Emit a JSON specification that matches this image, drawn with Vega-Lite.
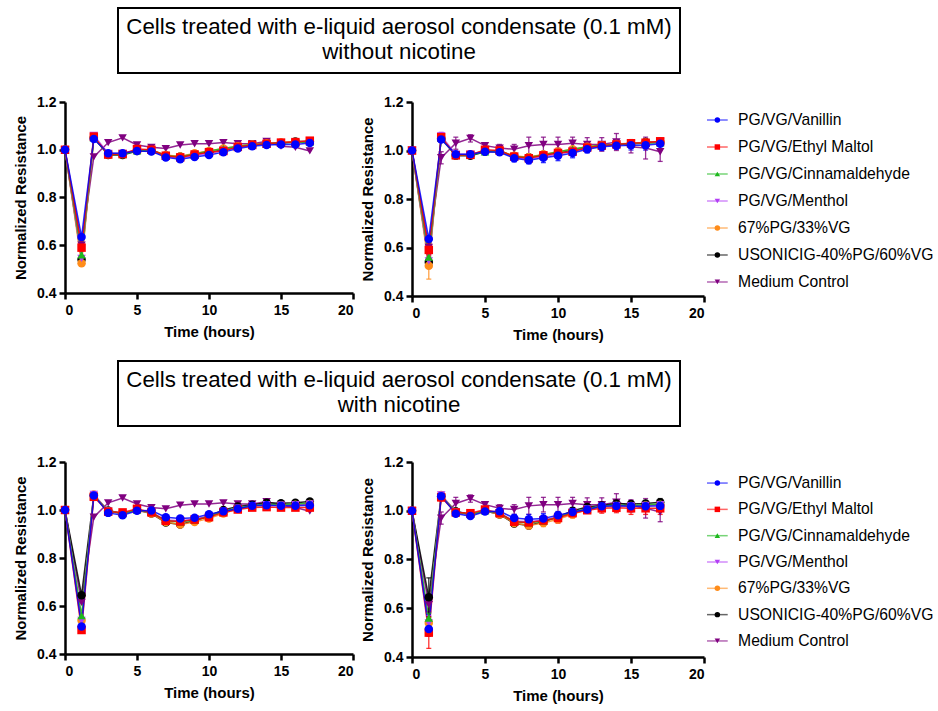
{
"$schema":"https://vega.github.io/schema/vega-lite/v6.json",
"padding":{"left":13,"top":7,"right":2,"bottom":2},
"config":{"view":{"stroke":null},"font":"Liberation Sans",
"axis":{"domainColor":"black","domainWidth":2.5,"tickColor":"black","tickWidth":2.5,"tickSize":6,"labelFont":"Liberation Sans","labelFontWeight":"bold","labelFontSize":14,"labelColor":"black","titleFont":"Liberation Sans","titleFontSize":15,"titleFontWeight":"bold","titleColor":"black","grid":false},
"axisX":{"labelPadding":4,"titlePadding":7},
"axisY":{"labelPadding":3,"titlePadding":8}},
"datasets":{
"series":[{"s":"V","n":"PG/VG/Vanillin"},{"s":"E","n":"PG/VG/Ethyl Maltol"},{"s":"C","n":"PG/VG/Cinnamaldehyde"},{"s":"M","n":"PG/VG/Menthol"},{"s":"O","n":"67%PG/33%VG"},{"s":"U","n":"USONICIG-40%PG/60%VG"},{"s":"K","n":"Medium Control"}],
"d":[
{"g":"wo","s":"K","t":0,"v":1,"e":0},{"g":"wo","s":"K","t":1.15,"v":0.6,"e":0.03},{"g":"wo","s":"K","t":2,"v":0.97,"e":0.025},{"g":"wo","s":"K","t":3,"v":1.03,"e":0.025},{"g":"wo","s":"K","t":4,"v":1.05,"e":0.015},{"g":"wo","s":"K","t":5,"v":1.02,"e":0.012},{"g":"wo","s":"K","t":6,"v":1.01,"e":0.015},{"g":"wo","s":"K","t":7,"v":1.005,"e":0.02},{"g":"wo","s":"K","t":8,"v":1.02,"e":0.035},{"g":"wo","s":"K","t":9,"v":1.025,"e":0.03},{"g":"wo","s":"K","t":10,"v":1.025,"e":0.03},{"g":"wo","s":"K","t":11,"v":1.03,"e":0.025},{"g":"wo","s":"K","t":12,"v":1.025,"e":0.028},{"g":"wo","s":"K","t":13,"v":1.025,"e":0.028},{"g":"wo","s":"K","t":14,"v":1.035,"e":0.035},{"g":"wo","s":"K","t":15,"v":1.015,"e":0.025},{"g":"wo","s":"K","t":16,"v":1.01,"e":0.045},{"g":"wo","s":"K","t":17,"v":0.995,"e":0.04},
{"g":"wo","s":"U","t":0,"v":1,"e":0},{"g":"wo","s":"U","t":1.15,"v":0.54,"e":0.02},{"g":"wo","s":"U","t":2,"v":1.05,"e":0.01},{"g":"wo","s":"U","t":3,"v":0.978,"e":0.01},{"g":"wo","s":"U","t":4,"v":0.978,"e":0.01},{"g":"wo","s":"U","t":5,"v":0.995,"e":0.01},{"g":"wo","s":"U","t":6,"v":0.995,"e":0.01},{"g":"wo","s":"U","t":7,"v":0.975,"e":0.01},{"g":"wo","s":"U","t":8,"v":0.972,"e":0.01},{"g":"wo","s":"U","t":9,"v":0.982,"e":0.01},{"g":"wo","s":"U","t":10,"v":0.99,"e":0.01},{"g":"wo","s":"U","t":11,"v":1.0,"e":0.01},{"g":"wo","s":"U","t":12,"v":1.012,"e":0.01},{"g":"wo","s":"U","t":13,"v":1.02,"e":0.01},{"g":"wo","s":"U","t":14,"v":1.025,"e":0.01},{"g":"wo","s":"U","t":15,"v":1.028,"e":0.01},{"g":"wo","s":"U","t":16,"v":1.035,"e":0.01},{"g":"wo","s":"U","t":17,"v":1.035,"e":0.01},
{"g":"wo","s":"O","t":0,"v":1,"e":0},{"g":"wo","s":"O","t":1.15,"v":0.525,"e":0.055},{"g":"wo","s":"O","t":2,"v":1.05,"e":0.01},{"g":"wo","s":"O","t":3,"v":0.98,"e":0.01},{"g":"wo","s":"O","t":4,"v":0.982,"e":0.01},{"g":"wo","s":"O","t":5,"v":1.0,"e":0.01},{"g":"wo","s":"O","t":6,"v":0.998,"e":0.01},{"g":"wo","s":"O","t":7,"v":0.978,"e":0.01},{"g":"wo","s":"O","t":8,"v":0.972,"e":0.012},{"g":"wo","s":"O","t":9,"v":0.985,"e":0.01},{"g":"wo","s":"O","t":10,"v":0.995,"e":0.01},{"g":"wo","s":"O","t":11,"v":1.005,"e":0.01},{"g":"wo","s":"O","t":12,"v":1.015,"e":0.01},{"g":"wo","s":"O","t":13,"v":1.022,"e":0.01},{"g":"wo","s":"O","t":14,"v":1.027,"e":0.01},{"g":"wo","s":"O","t":15,"v":1.03,"e":0.01},{"g":"wo","s":"O","t":16,"v":1.033,"e":0.01},{"g":"wo","s":"O","t":17,"v":1.036,"e":0.01},
{"g":"wo","s":"M","t":0,"v":1,"e":0},{"g":"wo","s":"M","t":1.15,"v":0.545,"e":0.03},{"g":"wo","s":"M","t":2,"v":1.06,"e":0.015},{"g":"wo","s":"M","t":3,"v":0.985,"e":0.01},{"g":"wo","s":"M","t":4,"v":0.985,"e":0.01},{"g":"wo","s":"M","t":5,"v":0.998,"e":0.01},{"g":"wo","s":"M","t":6,"v":0.998,"e":0.01},{"g":"wo","s":"M","t":7,"v":0.97,"e":0.01},{"g":"wo","s":"M","t":8,"v":0.965,"e":0.01},{"g":"wo","s":"M","t":9,"v":0.975,"e":0.01},{"g":"wo","s":"M","t":10,"v":0.985,"e":0.01},{"g":"wo","s":"M","t":11,"v":0.998,"e":0.01},{"g":"wo","s":"M","t":12,"v":1.01,"e":0.01},{"g":"wo","s":"M","t":13,"v":1.02,"e":0.01},{"g":"wo","s":"M","t":14,"v":1.025,"e":0.01},{"g":"wo","s":"M","t":15,"v":1.028,"e":0.01},{"g":"wo","s":"M","t":16,"v":1.03,"e":0.01},{"g":"wo","s":"M","t":17,"v":1.035,"e":0.01},
{"g":"wo","s":"C","t":0,"v":1,"e":0},{"g":"wo","s":"C","t":1.15,"v":0.56,"e":0.02},{"g":"wo","s":"C","t":2,"v":1.05,"e":0.01},{"g":"wo","s":"C","t":3,"v":0.98,"e":0.01},{"g":"wo","s":"C","t":4,"v":0.98,"e":0.01},{"g":"wo","s":"C","t":5,"v":0.995,"e":0.01},{"g":"wo","s":"C","t":6,"v":1.0,"e":0.012},{"g":"wo","s":"C","t":7,"v":0.975,"e":0.01},{"g":"wo","s":"C","t":8,"v":0.97,"e":0.01},{"g":"wo","s":"C","t":9,"v":0.982,"e":0.01},{"g":"wo","s":"C","t":10,"v":0.995,"e":0.01},{"g":"wo","s":"C","t":11,"v":1.005,"e":0.01},{"g":"wo","s":"C","t":12,"v":1.015,"e":0.01},{"g":"wo","s":"C","t":13,"v":1.022,"e":0.01},{"g":"wo","s":"C","t":14,"v":1.025,"e":0.01},{"g":"wo","s":"C","t":15,"v":1.028,"e":0.01},{"g":"wo","s":"C","t":16,"v":1.03,"e":0.01},{"g":"wo","s":"C","t":17,"v":1.032,"e":0.01},
{"g":"wo","s":"E","t":0,"v":1,"e":0},{"g":"wo","s":"E","t":1.15,"v":0.59,"e":0.02},{"g":"wo","s":"E","t":2,"v":1.055,"e":0.01},{"g":"wo","s":"E","t":3,"v":0.98,"e":0.01},{"g":"wo","s":"E","t":4,"v":0.982,"e":0.01},{"g":"wo","s":"E","t":5,"v":1.003,"e":0.01},{"g":"wo","s":"E","t":6,"v":1.0,"e":0.01},{"g":"wo","s":"E","t":7,"v":0.975,"e":0.015},{"g":"wo","s":"E","t":8,"v":0.968,"e":0.015},{"g":"wo","s":"E","t":9,"v":0.98,"e":0.015},{"g":"wo","s":"E","t":10,"v":0.99,"e":0.02},{"g":"wo","s":"E","t":11,"v":0.995,"e":0.015},{"g":"wo","s":"E","t":12,"v":1.012,"e":0.015},{"g":"wo","s":"E","t":13,"v":1.02,"e":0.015},{"g":"wo","s":"E","t":14,"v":1.025,"e":0.015},{"g":"wo","s":"E","t":15,"v":1.03,"e":0.015},{"g":"wo","s":"E","t":16,"v":1.032,"e":0.01},{"g":"wo","s":"E","t":17,"v":1.038,"e":0.012},
{"g":"wo","s":"V","t":0,"v":1,"e":0},{"g":"wo","s":"V","t":1.15,"v":0.635,"e":0.01},{"g":"wo","s":"V","t":2,"v":1.045,"e":0.01},{"g":"wo","s":"V","t":3,"v":0.985,"e":0.01},{"g":"wo","s":"V","t":4,"v":0.985,"e":0.008},{"g":"wo","s":"V","t":5,"v":0.995,"e":0.01},{"g":"wo","s":"V","t":6,"v":0.993,"e":0.01},{"g":"wo","s":"V","t":7,"v":0.968,"e":0.015},{"g":"wo","s":"V","t":8,"v":0.96,"e":0.015},{"g":"wo","s":"V","t":9,"v":0.97,"e":0.02},{"g":"wo","s":"V","t":10,"v":0.978,"e":0.02},{"g":"wo","s":"V","t":11,"v":0.99,"e":0.02},{"g":"wo","s":"V","t":12,"v":1.005,"e":0.015},{"g":"wo","s":"V","t":13,"v":1.015,"e":0.015},{"g":"wo","s":"V","t":14,"v":1.02,"e":0.015},{"g":"wo","s":"V","t":15,"v":1.022,"e":0.02},{"g":"wo","s":"V","t":16,"v":1.022,"e":0.02},{"g":"wo","s":"V","t":17,"v":1.028,"e":0.02},
{"g":"w","s":"K","t":0,"v":1,"e":0},{"g":"w","s":"K","t":1.15,"v":0.615,"e":0.03},{"g":"w","s":"K","t":2,"v":0.97,"e":0.025},{"g":"w","s":"K","t":3,"v":1.03,"e":0.025},{"g":"w","s":"K","t":4,"v":1.05,"e":0.015},{"g":"w","s":"K","t":5,"v":1.025,"e":0.012},{"g":"w","s":"K","t":6,"v":1.01,"e":0.015},{"g":"w","s":"K","t":7,"v":1.005,"e":0.02},{"g":"w","s":"K","t":8,"v":1.02,"e":0.035},{"g":"w","s":"K","t":9,"v":1.025,"e":0.03},{"g":"w","s":"K","t":10,"v":1.025,"e":0.03},{"g":"w","s":"K","t":11,"v":1.03,"e":0.025},{"g":"w","s":"K","t":12,"v":1.025,"e":0.028},{"g":"w","s":"K","t":13,"v":1.025,"e":0.028},{"g":"w","s":"K","t":14,"v":1.035,"e":0.035},{"g":"w","s":"K","t":15,"v":1.02,"e":0.025},{"g":"w","s":"K","t":16,"v":1.01,"e":0.04},{"g":"w","s":"K","t":17,"v":0.995,"e":0.04},
{"g":"w","s":"U","t":0,"v":1,"e":0},{"g":"w","s":"U","t":1.15,"v":0.645,"e":0.08},{"g":"w","s":"U","t":2,"v":1.06,"e":0.01},{"g":"w","s":"U","t":3,"v":0.998,"e":0.01},{"g":"w","s":"U","t":4,"v":0.985,"e":0.01},{"g":"w","s":"U","t":5,"v":1.0,"e":0.01},{"g":"w","s":"U","t":6,"v":0.985,"e":0.012},{"g":"w","s":"U","t":7,"v":0.948,"e":0.01},{"g":"w","s":"U","t":8,"v":0.94,"e":0.01},{"g":"w","s":"U","t":9,"v":0.955,"e":0.01},{"g":"w","s":"U","t":10,"v":0.975,"e":0.01},{"g":"w","s":"U","t":11,"v":1.0,"e":0.01},{"g":"w","s":"U","t":12,"v":1.015,"e":0.01},{"g":"w","s":"U","t":13,"v":1.022,"e":0.01},{"g":"w","s":"U","t":14,"v":1.03,"e":0.012},{"g":"w","s":"U","t":15,"v":1.028,"e":0.012},{"g":"w","s":"U","t":16,"v":1.03,"e":0.012},{"g":"w","s":"U","t":17,"v":1.035,"e":0.015},
{"g":"w","s":"O","t":0,"v":1,"e":0},{"g":"w","s":"O","t":1.15,"v":0.54,"e":0.02},{"g":"w","s":"O","t":2,"v":1.065,"e":0.01},{"g":"w","s":"O","t":3,"v":0.995,"e":0.01},{"g":"w","s":"O","t":4,"v":0.985,"e":0.01},{"g":"w","s":"O","t":5,"v":1.0,"e":0.01},{"g":"w","s":"O","t":6,"v":0.985,"e":0.01},{"g":"w","s":"O","t":7,"v":0.95,"e":0.012},{"g":"w","s":"O","t":8,"v":0.94,"e":0.015},{"g":"w","s":"O","t":9,"v":0.95,"e":0.015},{"g":"w","s":"O","t":10,"v":0.965,"e":0.015},{"g":"w","s":"O","t":11,"v":0.985,"e":0.015},{"g":"w","s":"O","t":12,"v":1.005,"e":0.01},{"g":"w","s":"O","t":13,"v":1.015,"e":0.01},{"g":"w","s":"O","t":14,"v":1.02,"e":0.01},{"g":"w","s":"O","t":15,"v":1.02,"e":0.01},{"g":"w","s":"O","t":16,"v":1.022,"e":0.01},{"g":"w","s":"O","t":17,"v":1.025,"e":0.01},
{"g":"w","s":"M","t":0,"v":1,"e":0},{"g":"w","s":"M","t":1.15,"v":0.54,"e":0.03},{"g":"w","s":"M","t":2,"v":1.065,"e":0.012},{"g":"w","s":"M","t":3,"v":0.995,"e":0.01},{"g":"w","s":"M","t":4,"v":0.985,"e":0.01},{"g":"w","s":"M","t":5,"v":1.0,"e":0.01},{"g":"w","s":"M","t":6,"v":0.99,"e":0.01},{"g":"w","s":"M","t":7,"v":0.958,"e":0.01},{"g":"w","s":"M","t":8,"v":0.955,"e":0.01},{"g":"w","s":"M","t":9,"v":0.962,"e":0.01},{"g":"w","s":"M","t":10,"v":0.975,"e":0.01},{"g":"w","s":"M","t":11,"v":0.995,"e":0.01},{"g":"w","s":"M","t":12,"v":1.008,"e":0.01},{"g":"w","s":"M","t":13,"v":1.018,"e":0.01},{"g":"w","s":"M","t":14,"v":1.022,"e":0.01},{"g":"w","s":"M","t":15,"v":1.02,"e":0.01},{"g":"w","s":"M","t":16,"v":1.022,"e":0.01},{"g":"w","s":"M","t":17,"v":1.025,"e":0.01},
{"g":"w","s":"C","t":0,"v":1,"e":0},{"g":"w","s":"C","t":1.15,"v":0.56,"e":0.02},{"g":"w","s":"C","t":2,"v":1.06,"e":0.01},{"g":"w","s":"C","t":3,"v":0.995,"e":0.01},{"g":"w","s":"C","t":4,"v":0.985,"e":0.01},{"g":"w","s":"C","t":5,"v":1.0,"e":0.01},{"g":"w","s":"C","t":6,"v":0.99,"e":0.01},{"g":"w","s":"C","t":7,"v":0.955,"e":0.01},{"g":"w","s":"C","t":8,"v":0.95,"e":0.01},{"g":"w","s":"C","t":9,"v":0.958,"e":0.01},{"g":"w","s":"C","t":10,"v":0.972,"e":0.01},{"g":"w","s":"C","t":11,"v":0.995,"e":0.01},{"g":"w","s":"C","t":12,"v":1.008,"e":0.01},{"g":"w","s":"C","t":13,"v":1.018,"e":0.01},{"g":"w","s":"C","t":14,"v":1.025,"e":0.01},{"g":"w","s":"C","t":15,"v":1.022,"e":0.01},{"g":"w","s":"C","t":16,"v":1.025,"e":0.01},{"g":"w","s":"C","t":17,"v":1.028,"e":0.01},
{"g":"w","s":"E","t":0,"v":1,"e":0},{"g":"w","s":"E","t":1.15,"v":0.5,"e":0.065},{"g":"w","s":"E","t":2,"v":1.055,"e":0.015},{"g":"w","s":"E","t":3,"v":0.993,"e":0.012},{"g":"w","s":"E","t":4,"v":0.99,"e":0.01},{"g":"w","s":"E","t":5,"v":1.005,"e":0.012},{"g":"w","s":"E","t":6,"v":0.99,"e":0.012},{"g":"w","s":"E","t":7,"v":0.955,"e":0.02},{"g":"w","s":"E","t":8,"v":0.952,"e":0.02},{"g":"w","s":"E","t":9,"v":0.96,"e":0.02},{"g":"w","s":"E","t":10,"v":0.97,"e":0.02},{"g":"w","s":"E","t":11,"v":0.99,"e":0.015},{"g":"w","s":"E","t":12,"v":1.002,"e":0.012},{"g":"w","s":"E","t":13,"v":1.01,"e":0.02},{"g":"w","s":"E","t":14,"v":1.012,"e":0.02},{"g":"w","s":"E","t":15,"v":1.01,"e":0.025},{"g":"w","s":"E","t":16,"v":1.01,"e":0.025},{"g":"w","s":"E","t":17,"v":1.01,"e":0.025},
{"g":"w","s":"V","t":0,"v":1,"e":0},{"g":"w","s":"V","t":1.15,"v":0.515,"e":0.03},{"g":"w","s":"V","t":2,"v":1.06,"e":0.01},{"g":"w","s":"V","t":3,"v":0.988,"e":0.01},{"g":"w","s":"V","t":4,"v":0.978,"e":0.008},{"g":"w","s":"V","t":5,"v":0.997,"e":0.01},{"g":"w","s":"V","t":6,"v":0.998,"e":0.01},{"g":"w","s":"V","t":7,"v":0.97,"e":0.015},{"g":"w","s":"V","t":8,"v":0.965,"e":0.02},{"g":"w","s":"V","t":9,"v":0.968,"e":0.02},{"g":"w","s":"V","t":10,"v":0.982,"e":0.015},{"g":"w","s":"V","t":11,"v":0.995,"e":0.015},{"g":"w","s":"V","t":12,"v":1.005,"e":0.012},{"g":"w","s":"V","t":13,"v":1.018,"e":0.012},{"g":"w","s":"V","t":14,"v":1.02,"e":0.015},{"g":"w","s":"V","t":15,"v":1.018,"e":0.02},{"g":"w","s":"V","t":16,"v":1.018,"e":0.02},{"g":"w","s":"V","t":17,"v":1.02,"e":0.02}
]},
"spacing":18,
"vconcat":[
{"spacing":21,"vconcat":[
 {"spacing":0,"hconcat":[
  {"width":52,"height":65,"data":{"values":[{"k":1}]},"mark":{"type":"text"},"encoding":{"text":{"value":""}}},
  {"width":562,"height":65,"view":{"stroke":"black","strokeWidth":2},"data":{"values":[{"label":"Cells treated with e-liquid aerosol condensate (0.1 mM)\nwithout nicotine"}]},"mark":{"type":"text","fontSize":22.3,"lineHeight":25,"lineBreak":"\n","dy":-13.5,"font":"Liberation Sans","color":"black"},"encoding":{"text":{"field":"label"}}}
 ]},
 {"spacing":5,"hconcat":[
  {"width":288,"height":191,"data":{"name":"d"},"transform":[{"filter":"datum.g === 'wo'"}],
   "encoding":{"x":{"field":"t","type":"quantitative","scale":{"domain":[0,20],"nice":false},"axis":{"values":[0,5,10,15,20],"title":"Time (hours)"}},
    "y":{"field":"v","type":"quantitative","scale":{"domain":[0.4,1.2],"nice":false,"zero":false},"axis":{"values":[0.4,0.6,0.8,1.0,1.2],"format":".1f","title":"Normalized Resistance"}},
    "color":{"field":"s","type":"nominal","scale":{"domain":["V","E","C","M","O","U","K"],"range":["#0000FF","#FF0000","#1DB81D","#B33DF5","#FF8C1A","#000000","#800080"]},"legend":null}},
   "layer":[
    {"mark":{"type":"line","strokeWidth":1.5,"opacity":0.85}},
    {"mark":{"type":"point","filled":true,"opacity":1,"size":72},"encoding":{"shape":{"field":"s","type":"nominal","scale":{"domain":["V","E","C","M","O","U","K"],"range":["circle","square","triangle-up","triangle-down","circle","circle","triangle-down"]},"legend":null}}}
   ]},
  {"spacing":0,"hconcat":[
  {"width":292,"height":194,"data":{"name":"d"},"transform":[{"filter":"datum.g === 'wo'"}],
   "encoding":{"x":{"field":"t","type":"quantitative","scale":{"domain":[0,20],"nice":false},"axis":{"values":[0,5,10,15,20],"title":"Time (hours)"}},
    "y":{"field":"v","type":"quantitative","scale":{"domain":[0.4,1.2],"nice":false,"zero":false},"axis":{"values":[0.4,0.6,0.8,1.0,1.2],"format":".1f","title":"Normalized Resistance"}},
    "color":{"field":"s","type":"nominal","scale":{"domain":["V","E","C","M","O","U","K"],"range":["#0000FF","#FF0000","#1DB81D","#B33DF5","#FF8C1A","#000000","#800080"]},"legend":null}},
   "layer":[
    {"mark":{"type":"line","strokeWidth":1.5,"opacity":0.85}},
    {"mark":{"type":"errorbar","ticks":true,"thickness":1.3,"opacity":0.8},"encoding":{"yError":{"field":"e"}}},
    {"mark":{"type":"point","filled":true,"opacity":1,"size":72},"encoding":{"shape":{"field":"s","type":"nominal","scale":{"domain":["V","E","C","M","O","U","K"],"range":["circle","square","triangle-up","triangle-down","circle","circle","triangle-down"]},"legend":null}}}
   ]},
  {"width":226,"height":198,"data":{"name":"series"},
   "encoding":{"y":{"field":"s","type":"nominal","scale":{"type":"point","domain":["V","E","C","M","O","U","K"],"padding":0.667},"axis":null},
    "color":{"field":"s","type":"nominal","scale":{"domain":["V","E","C","M","O","U","K"],"range":["#0000FF","#FF0000","#1DB81D","#B33DF5","#FF8C1A","#000000","#800080"]},"legend":null}},
   "layer":[
    {"mark":{"type":"rule","strokeWidth":1.5,"opacity":0.6},"encoding":{"x":{"datum":0,"type":"quantitative","scale":{"domain":[0,226]},"axis":null},"x2":{"datum":22}}},
    {"mark":{"type":"point","filled":true,"opacity":1},"encoding":{"x":{"datum":11,"type":"quantitative"},"shape":{"field":"s","type":"nominal","scale":{"domain":["V","E","C","M","O","U","K"],"range":["circle","square","triangle-up","triangle-down","circle","circle","triangle-down"]},"legend":null},"size":{"field":"s","type":"ordinal","scale":{"domain":["V","E","C","M","O","U","K"],"range":[30,30,25,25,22,48,60]},"legend":null}}},
    {"mark":{"type":"text","align":"left","baseline":"middle","fontSize":15.7,"font":"Liberation Sans","color":"black"},"encoding":{"x":{"datum":33,"type":"quantitative"},"text":{"field":"n"},"color":{"value":"black"}}}
   ]}
  ]}
 ]}
]},
{"spacing":28,"vconcat":[
 {"spacing":0,"hconcat":[
  {"width":52,"height":65,"data":{"values":[{"k":1}]},"mark":{"type":"text"},"encoding":{"text":{"value":""}}},
  {"width":562,"height":65,"view":{"stroke":"black","strokeWidth":2},"data":{"values":[{"label":"Cells treated with e-liquid aerosol condensate (0.1 mM)\nwith nicotine"}]},"mark":{"type":"text","fontSize":22.3,"lineHeight":25,"lineBreak":"\n","dy":-13.5,"font":"Liberation Sans","color":"black"},"encoding":{"text":{"field":"label"}}}
 ]},
 {"spacing":5,"hconcat":[
  {"width":288,"height":192,"data":{"name":"d"},"transform":[{"filter":"datum.g === 'w'"}],
   "encoding":{"x":{"field":"t","type":"quantitative","scale":{"domain":[0,20],"nice":false},"axis":{"values":[0,5,10,15,20],"title":"Time (hours)"}},
    "y":{"field":"v","type":"quantitative","scale":{"domain":[0.4,1.2],"nice":false,"zero":false},"axis":{"values":[0.4,0.6,0.8,1.0,1.2],"format":".1f","title":"Normalized Resistance"}},
    "color":{"field":"s","type":"nominal","scale":{"domain":["V","E","C","M","O","U","K"],"range":["#0000FF","#FF0000","#1DB81D","#B33DF5","#FF8C1A","#000000","#800080"]},"legend":null}},
   "layer":[
    {"mark":{"type":"line","strokeWidth":1.5,"opacity":0.85}},
    {"mark":{"type":"point","filled":true,"opacity":1,"size":72},"encoding":{"shape":{"field":"s","type":"nominal","scale":{"domain":["V","E","C","M","O","U","K"],"range":["circle","square","triangle-up","triangle-down","circle","circle","triangle-down"]},"legend":null}}}
   ]},
  {"spacing":0,"hconcat":[
  {"width":292,"height":195,"data":{"name":"d"},"transform":[{"filter":"datum.g === 'w'"}],
   "encoding":{"x":{"field":"t","type":"quantitative","scale":{"domain":[0,20],"nice":false},"axis":{"values":[0,5,10,15,20],"title":"Time (hours)"}},
    "y":{"field":"v","type":"quantitative","scale":{"domain":[0.4,1.2],"nice":false,"zero":false},"axis":{"values":[0.4,0.6,0.8,1.0,1.2],"format":".1f","title":"Normalized Resistance"}},
    "color":{"field":"s","type":"nominal","scale":{"domain":["V","E","C","M","O","U","K"],"range":["#0000FF","#FF0000","#1DB81D","#B33DF5","#FF8C1A","#000000","#800080"]},"legend":null}},
   "layer":[
    {"mark":{"type":"line","strokeWidth":1.5,"opacity":0.85}},
    {"mark":{"type":"errorbar","ticks":true,"thickness":1.3,"opacity":0.8},"encoding":{"yError":{"field":"e"}}},
    {"mark":{"type":"point","filled":true,"opacity":1,"size":72},"encoding":{"shape":{"field":"s","type":"nominal","scale":{"domain":["V","E","C","M","O","U","K"],"range":["circle","square","triangle-up","triangle-down","circle","circle","triangle-down"]},"legend":null}}}
   ]},
  {"width":226,"height":200,"data":{"name":"series"},
   "encoding":{"y":{"field":"s","type":"nominal","scale":{"type":"point","domain":["V","E","C","M","O","U","K"],"padding":0.8},"axis":null},
    "color":{"field":"s","type":"nominal","scale":{"domain":["V","E","C","M","O","U","K"],"range":["#0000FF","#FF0000","#1DB81D","#B33DF5","#FF8C1A","#000000","#800080"]},"legend":null}},
   "layer":[
    {"mark":{"type":"rule","strokeWidth":1.5,"opacity":0.6},"encoding":{"x":{"datum":0,"type":"quantitative","scale":{"domain":[0,226]},"axis":null},"x2":{"datum":22}}},
    {"mark":{"type":"point","filled":true,"opacity":1},"encoding":{"x":{"datum":11,"type":"quantitative"},"shape":{"field":"s","type":"nominal","scale":{"domain":["V","E","C","M","O","U","K"],"range":["circle","square","triangle-up","triangle-down","circle","circle","triangle-down"]},"legend":null},"size":{"field":"s","type":"ordinal","scale":{"domain":["V","E","C","M","O","U","K"],"range":[30,30,25,25,22,48,60]},"legend":null}}},
    {"mark":{"type":"text","align":"left","baseline":"middle","fontSize":15.7,"font":"Liberation Sans","color":"black"},"encoding":{"x":{"datum":33,"type":"quantitative"},"text":{"field":"n"},"color":{"value":"black"}}}
   ]}
  ]}
 ]}
]}
]
}
